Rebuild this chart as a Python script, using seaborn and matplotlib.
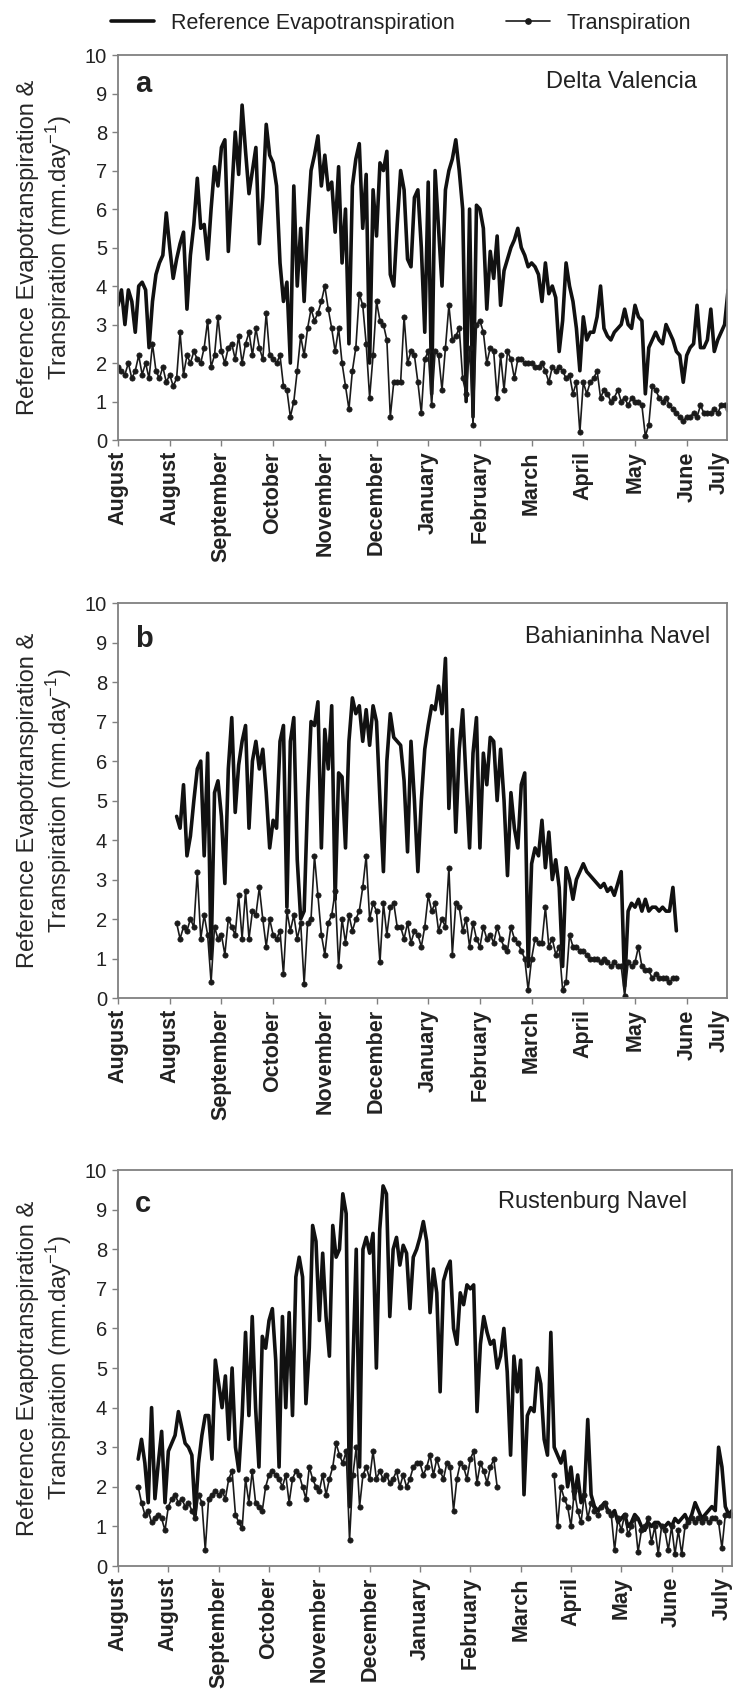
import numpy as np
import pandas as pd
import matplotlib
matplotlib.use('Agg')
import matplotlib.pyplot as plt
from matplotlib.lines import Line2D
import seaborn as sns

# one reading every ~2 days: 15 readings per month tick
STEPS_PER_MONTH = 15

month_labels = ['August', 'August', 'September', 'October', 'November', 'December',
                'January', 'February', 'March', 'April', 'May', 'June', 'July']

# --- a: Delta Valencia (starts at index 0) ---
a_et = [3.5, 3.9, 3.0, 3.9, 3.6, 2.8, 4.0, 4.1, 3.9, 2.4, 3.6, 4.3, 4.6, 4.8, 5.9,
        5.0, 4.2, 4.7, 5.1, 5.4, 3.4, 4.8, 5.6, 6.8, 5.5, 5.6, 4.7, 6.0, 7.1, 6.6,
        7.6, 7.8, 4.9, 6.4, 8.0, 6.9, 8.7, 7.5, 6.4, 7.0, 7.6, 5.1, 6.3, 8.2, 7.4,
        7.2, 6.6, 4.6, 3.6, 4.1, 2.0, 6.6, 4.0, 5.5, 3.6, 5.6, 7.0, 7.4, 7.9, 6.6,
        7.4, 6.5, 6.7, 5.4, 7.1, 4.6, 6.0, 2.5, 6.6, 7.3, 7.7, 5.5, 6.9, 2.0, 6.5,
        5.3, 7.2, 7.0, 7.5, 4.3, 4.0, 5.6, 7.0, 6.5, 4.7, 4.5, 6.3, 6.5, 5.0, 2.8,
        6.7, 1.2, 7.0, 5.5, 4.0, 6.5, 7.0, 7.3, 7.8, 7.0, 6.0, 1.0, 6.0, 0.6, 6.1,
        6.0, 5.5, 3.4, 4.9, 4.2, 5.3, 3.5, 4.4, 4.7, 5.0, 5.2, 5.5, 5.0, 4.8, 4.5,
        4.6, 4.5, 4.3, 3.6, 4.6, 3.8, 4.0, 3.7, 2.3, 3.1, 4.6, 4.0, 3.6, 2.9, 1.8,
        3.2, 2.6, 2.8, 2.8, 3.2, 4.0, 2.9, 2.7, 2.6, 2.8, 2.9, 3.0, 3.4, 3.0, 2.9,
        3.5, 3.2, 3.1, 1.2, 2.4, 2.6, 2.8, 2.6, 2.5, 3.0, 2.8, 2.6, 2.3, 2.2, 1.5,
        2.2, 2.4, 2.5, 3.5, 2.4, 2.4, 2.6, 3.4, 2.3, 2.6, 2.8, 3.0, 3.9]
a_tr = [1.9, 1.8, 1.7, 2.0, 1.6, 1.8, 2.2, 1.7, 2.0, 1.6, 2.5, 1.8, 1.6, 1.9, 1.5,
        1.7, 1.4, 1.6, 2.8, 1.7, 2.2, 2.0, 2.3, 2.1, 2.0, 2.4, 3.1, 1.9, 2.2, 3.2,
        2.3, 2.0, 2.4, 2.5, 2.1, 2.7, 2.0, 2.5, 2.8, 2.2, 2.9, 2.4, 2.1, 3.3, 2.2,
        2.1, 2.0, 2.2, 1.4, 1.3, 0.6, 1.0, 1.8, 2.7, 2.2, 2.9, 3.4, 3.1, 3.3, 3.6,
        4.0, 3.4, 2.9, 2.3, 2.9, 2.0, 1.4, 0.8, 1.8, 2.4, 3.8, 3.5, 2.5, 1.1, 2.2,
        3.6, 3.1, 3.0, 2.6, 0.6, 1.5, 1.5, 1.5, 3.2, 2.0, 2.3, 2.2, 1.5, 0.7, 2.1,
        2.3, 0.9, 2.3, 2.2, 1.3, 2.4, 3.5, 2.6, 2.7, 2.9, 1.6, 1.2, 2.4, 0.4, 3.0,
        3.1, 2.8, 2.0, 2.4, 2.3, 1.1, 2.2, 1.3, 2.3, 2.1, 1.6, 2.1, 2.1, 2.0, 2.0,
        2.0, 1.9, 1.9, 2.0, 1.8, 1.5, 1.9, 1.8, 1.9, 1.8, 1.6, 1.7, 1.2, 1.5, 0.2,
        1.5, 1.2, 1.5, 1.6, 1.8, 1.1, 1.3, 1.2, 1.0, 1.1, 1.3, 1.0, 1.1, 0.9, 1.1,
        1.0, 1.0, 0.9, 0.1, 0.4, 1.4, 1.3, 1.1, 1.0, 1.1, 0.9, 0.8, 0.7, 0.6, 0.5,
        0.6, 0.6, 0.7, 0.6, 0.9, 0.7, 0.7, 0.7, 0.8, 0.7, 0.9, 0.9, 0.8]
a_start = 0

# --- b: Bahianinha Navel ---
b_et = [4.6, 4.3, 5.4, 3.6, 4.1, 5.0, 5.8, 6.0, 3.6, 6.2, 1.0, 5.2, 5.5,
        4.6, 2.9, 5.8, 7.1, 4.7, 5.9, 6.5, 6.9, 4.3, 6.0, 6.5, 5.8, 6.3, 5.2, 3.8,
        4.5, 4.3, 6.5, 6.9, 2.3, 6.5, 7.1, 3.5, 2.0, 2.2, 5.0, 7.0, 6.9, 7.5, 3.8,
        6.8, 5.8, 7.4, 2.5, 5.7, 5.6, 3.8, 6.5, 7.6, 7.2, 7.4, 6.5, 7.3, 6.4, 7.4,
        7.0, 5.0, 3.2, 6.0, 7.2, 6.6, 6.5, 6.4, 5.5, 3.7, 6.5, 5.0, 3.2, 5.0, 6.3,
        6.9, 7.4, 7.3, 7.9, 7.2, 8.6, 4.8, 6.8, 4.2, 6.3, 7.3, 5.5, 3.8, 6.2, 7.1,
        3.8, 6.2, 5.4, 6.6, 6.5, 5.0, 6.3, 5.0, 3.1, 5.2, 4.3, 3.8, 5.4, 5.7, 0.8,
        3.4, 3.8, 3.6, 4.5, 3.3, 4.2, 3.0, 3.5, 2.8, 0.8, 3.3, 3.0, 2.5, 3.0, 3.2,
        3.4, 3.2, 3.1, 3.0, 2.9, 2.8, 2.9, 2.7, 2.8, 2.6, 2.9, 3.2, 0.3, 2.2, 2.4,
        2.3, 2.5, 2.2, 2.5, 2.2, 2.3, 2.3, 2.2, 2.3, 2.2, 2.2, 2.8, 1.7]
b_tr = [1.9, 1.5, 1.8, 1.7, 2.0, 1.8, 3.2, 1.5, 2.1, 1.6, 0.4, 1.8, 1.5,
        1.6, 1.1, 2.0, 1.8, 1.6, 2.6, 1.5, 2.7, 1.5, 2.2, 2.1, 2.8, 2.0, 1.3, 2.0,
        1.6, 1.5, 1.7, 0.6, 2.2, 1.7, 2.1, 1.5, 1.9, 0.35, 1.9, 2.0, 3.6, 2.6, 1.6,
        1.1, 1.9, 2.1, 2.7, 0.8, 2.0, 1.4, 2.1, 1.7, 2.0, 2.2, 2.8, 3.6, 2.0, 2.4,
        2.2, 0.9, 2.4, 1.6, 2.3, 2.4, 1.8, 1.8, 1.5, 1.9, 1.4, 1.7, 1.6, 1.3, 1.8,
        2.6, 2.2, 2.4, 1.7, 2.0, 1.8, 3.3, 1.1, 2.4, 2.3, 1.7, 2.0, 1.3, 1.9, 1.5,
        1.3, 1.8, 1.5, 1.6, 1.4, 1.8, 1.5, 1.3, 1.2, 1.8, 1.5, 1.4, 1.2, 1.0, 0.2,
        1.0, 1.5, 1.4, 1.4, 2.3, 1.3, 1.5, 1.1, 1.3, 0.2, 0.4, 1.6, 1.3, 1.3, 1.2,
        1.2, 1.1, 1.0, 1.0, 1.0, 0.9, 1.0, 0.9, 0.8, 0.9, 0.8, 0.8, 0.05, 0.9, 0.8,
        0.9, 1.3, 0.8, 0.7, 0.7, 0.5, 0.6, 0.5, 0.5, 0.5, 0.4, 0.5, 0.5]
b_start = 17

# --- c: Rustenburg Navel (transpiration has a gap in Feb-Mar) ---
c_et = [2.7, 3.2, 2.6, 1.6, 4.0, 1.7, 2.6, 3.4, 1.6,
        2.9, 3.1, 3.3, 3.9, 3.5, 3.1, 3.0, 2.8, 1.3, 2.6, 3.3, 3.8, 3.8, 2.7, 5.2,
        4.6, 4.0, 4.8, 3.2, 5.0, 3.0, 2.4, 3.8, 5.9, 3.8, 6.3, 4.0, 2.5, 5.8, 5.5,
        6.2, 6.5, 5.2, 2.5, 6.3, 4.0, 6.4, 3.8, 7.3, 7.8, 7.3, 4.1, 5.5, 8.6, 8.2,
        6.2, 7.9, 6.3, 5.3, 8.6, 7.8, 8.0, 9.4, 8.9, 1.5, 5.0, 8.0, 2.5, 8.0, 8.3,
        7.9, 8.4, 5.0, 8.5, 9.6, 9.4, 6.3, 8.0, 8.3, 7.6, 8.1, 7.9, 6.5, 7.8, 8.0,
        8.3, 8.7, 8.2, 6.4, 7.5, 6.9, 4.4, 7.2, 7.5, 7.7, 6.0, 5.6, 6.9, 6.6, 7.1,
        7.0, 7.1, 3.9, 5.6, 6.3, 5.9, 5.6, 5.7, 5.0, 5.3, 6.0, 4.9, 2.8, 5.3, 4.4,
        5.2, 1.8, 3.8, 4.0, 3.9, 5.0, 4.6, 3.2, 2.8, 5.9, 3.0, 2.8, 2.6, 2.9, 2.0,
        2.5, 1.7, 2.3, 1.6, 1.8, 3.7, 1.8, 1.5, 1.4, 1.5, 1.6, 1.4, 1.3, 1.4, 1.1,
        1.2, 1.3, 1.0, 1.1, 1.3, 1.2, 1.0, 0.9, 1.1, 1.0, 1.1, 1.1, 1.0, 1.0, 1.1,
        1.0, 1.2, 1.1, 1.2, 1.3, 1.1, 1.3, 1.6, 1.4, 1.2, 1.3, 1.4, 1.5, 1.4, 3.0,
        2.5, 1.5, 1.3, 1.4]
c_et_start = 6
c_tr1 = [2.0, 1.6, 1.3, 1.4, 1.1, 1.2, 1.3, 1.2, 0.9,
         1.5, 1.7, 1.8, 1.6, 1.7, 1.5, 1.6, 1.4, 1.2, 1.8, 1.6, 0.4, 1.7, 1.8, 1.9,
         1.8, 1.9, 1.7, 2.2, 2.4, 1.3, 1.1, 0.95, 2.2, 1.6, 2.4, 1.6, 1.5, 1.4, 2.0,
         2.3, 2.4, 2.3, 2.2, 2.0, 2.3, 1.6, 2.2, 2.4, 2.3, 2.0, 1.7, 2.5, 2.2, 2.0,
         1.9, 2.3, 1.8, 2.2, 2.5, 3.1, 2.8, 2.6, 2.9, 0.65, 2.3, 3.0, 1.5, 2.3, 2.5,
         2.2, 2.9, 2.2, 2.4, 2.2, 2.3, 2.1, 2.2, 2.4, 2.0, 2.3, 2.0, 2.2, 2.5, 2.6,
         2.6, 2.3, 2.5, 2.8, 2.3, 2.7, 2.4, 2.2, 2.6, 2.5, 1.4, 2.2, 2.6, 2.5, 2.2,
         2.7, 2.9, 2.1, 2.6, 2.4, 2.1, 2.5, 2.7, 2.0]
c_tr1_start = 6
c_tr2 = [2.3, 1.0, 2.0, 1.7, 1.5,
         1.0, 1.9, 1.4, 1.1, 1.8, 1.2, 1.6, 1.4, 1.3, 1.5, 1.6, 1.4, 1.3, 0.4, 1.2,
         0.9, 1.3, 0.8, 1.0, 1.2, 0.35, 0.9, 1.0, 1.2, 0.6, 1.0, 0.3, 1.0, 0.9, 0.4,
         1.0, 0.3, 0.9, 0.3, 1.0, 1.1, 1.2, 1.1, 1.2, 1.1, 1.2, 1.1, 1.2, 1.2, 1.1,
         0.45, 1.3, 1.3, 1.3]
c_tr2_start = 130


def to_frame(values, start):
    """readings -> DataFrame with position in month units"""
    month = (start + np.arange(len(values))) / STEPS_PER_MONTH
    return pd.DataFrame({'month': month, 'value': values})


def draw_panel(ax, et_parts, tr_parts, letter, site, xmax, site_xy):
    for vals, start in et_parts:
        sns.lineplot(data=to_frame(vals, start), x='month', y='value', ax=ax,
                     color='#111111', linewidth=2.6, estimator=None)
    for vals, start in tr_parts:
        sns.lineplot(data=to_frame(vals, start), x='month', y='value', ax=ax,
                     color='#1a1a1a', linewidth=1.2, marker='o', markersize=3.8,
                     markeredgewidth=0.5, markeredgecolor='#1a1a1a', estimator=None)

    ax.set_xlim(0, xmax)
    ax.set_ylim(0, 10)
    ax.set_yticks(range(0, 11))
    n_ticks = int(np.floor(xmax + 1e-6))
    ticks = list(range(n_ticks + 1))
    # last label (July) sits at the right edge when the axis stops short of it
    edge_label = len(ticks) < len(month_labels)
    if edge_label:
        ticks.append(xmax - 0.15)
    ax.set_xticks(ticks)
    ax.set_xticklabels(month_labels[:len(ticks)], rotation=90, fontweight='bold',
                       fontsize=15.5)
    ax.tick_params(axis='y', labelsize=14.5)
    ax.tick_params(direction='out', length=4, width=1, color='#808080', pad=4)
    if edge_label:
        ax.xaxis.get_major_ticks()[-1].tick1line.set_visible(False)
    for sp in ax.spines.values():
        sp.set_color('#808080')
        sp.set_linewidth(1.3)
    ax.set_xlabel('')
    ax.set_ylabel('Reference Evapotranspiration &\nTranspiration (mm.day$^{-1}$)',
                  fontsize=17, linespacing=1.2, labelpad=8)

    ax.text(0.028, site_xy[1] - 0.01, letter, transform=ax.transAxes, fontsize=21,
            fontweight='bold', va='baseline', ha='left')
    ax.text(site_xy[0], site_xy[1], site, transform=ax.transAxes, fontsize=17,
            va='baseline', ha='right')


def main():
    sns.set_style('ticks')
    plt.rcParams['font.family'] = ['Liberation Sans', 'DejaVu Sans']
    plt.rcParams['mathtext.fontset'] = 'custom'
    plt.rcParams['mathtext.rm'] = 'Liberation Sans'
    plt.rcParams['mathtext.default'] = 'regular'
    plt.rcParams['text.color'] = '#222222'
    plt.rcParams['xtick.labelcolor'] = '#222222'
    plt.rcParams['ytick.labelcolor'] = '#222222'

    fig = plt.figure(figsize=(7.34, 16.95), dpi=100)
    ax_a = fig.add_axes([0.1608, 0.7404, 0.8297, 0.2271])
    ax_b = fig.add_axes([0.1608, 0.4112, 0.8297, 0.2330])
    ax_c = fig.add_axes([0.1608, 0.0761, 0.8365, 0.2336])

    draw_panel(ax_a, [(a_et, a_start)], [(a_tr, a_start)], 'a', 'Delta Valencia',
               11.78, (0.951, 0.914))
    draw_panel(ax_b, [(b_et, b_start)], [(b_tr, b_start)], 'b', 'Bahianinha Navel',
               11.78, (0.972, 0.899))
    draw_panel(ax_c, [(c_et, c_et_start)], [(c_tr1, c_tr1_start), (c_tr2, c_tr2_start)],
               'c', 'Rustenburg Navel', 12.2, (0.927, 0.904))

    handles = [Line2D([], [], color='#111111', linewidth=2.6),
               Line2D([], [], color='#1a1a1a', linewidth=1.2, marker='o', markersize=3.8)]
    fig.legend(handles, ['Reference Evapotranspiration', 'Transpiration'],
               loc='center', bbox_to_anchor=(401 / 734, 1 - 23 / 1695), ncol=2,
               frameon=False, fontsize=15.5, handlelength=2.0, handletextpad=0.8,
               columnspacing=2.4)

    fig.savefig('out.png', dpi=100)


if __name__ == "__main__":
    main()
